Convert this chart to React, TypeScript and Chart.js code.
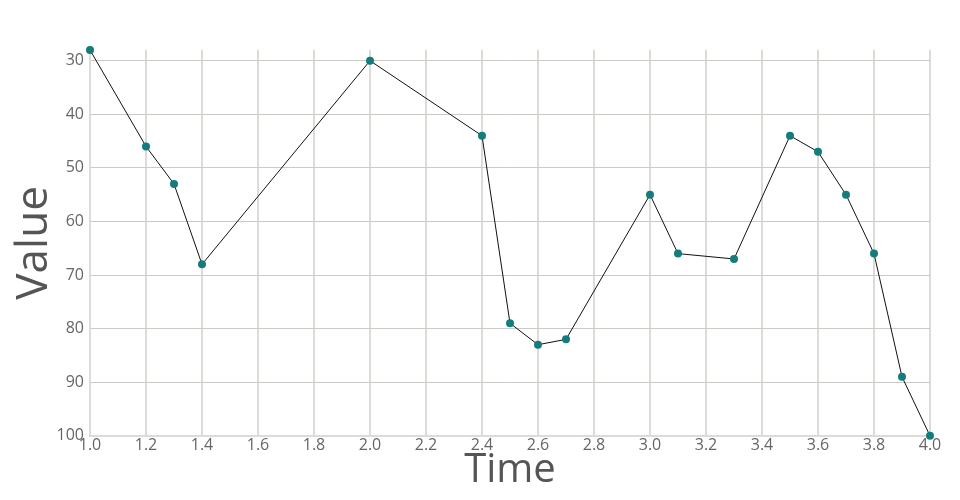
import React, { useEffect, useRef } from "react";
import { Chart, registerables } from "chart.js";

Chart.register(...registerables);

const timeValues = [1.0, 1.2, 1.3, 1.4, 2.0, 2.4, 2.5, 2.6, 2.7, 3.0, 3.1, 3.3, 3.5, 3.6, 3.7, 3.8, 3.9, 4.0];
const seriesValues = [28, 46, 53, 68, 30, 44, 79, 83, 82, 55, 66, 67, 44, 47, 55, 66, 89, 100];
const yTickValues = [30, 40, 50, 60, 70, 80, 90, 100];

const FONT = "'Open Sans', sans-serif";

export default function App() {
  const ref = useRef<HTMLCanvasElement | null>(null);
  useEffect(() => {
    document.body.style.margin = "0";
    const ctx = ref.current!;
    const chart = new Chart(ctx, {
      type: "scatter",
      data: {
        datasets: [
          {
            data: timeValues.map((t, i) => ({ x: t, y: seriesValues[i] })),
            showLine: true,
            clip: false,
            borderColor: "#111",
            borderWidth: 1,
            pointBackgroundColor: "#137d7d",
            pointBorderColor: "#137d7d",
            pointRadius: 4,
            pointBorderWidth: 0,
          },
        ],
      },
      options: {
        animation: false,
        responsive: false,
        maintainAspectRatio: false,
        layout: { padding: { top: 50, right: 30, left: 0, bottom: 5 } },
        plugins: { legend: { display: false }, tooltip: { enabled: false } },
        scales: {
          x: {
            type: "linear",
            min: 1,
            max: 4,
            ticks: {
              stepSize: 0.2,
              color: "#666",
              font: { family: FONT, size: 16 },
              padding: 0,
              maxRotation: 0,
              callback: (v: any) => Number(v).toFixed(1),
            },
            grid: { color: "#dddbd6", lineWidth: 2, drawTicks: false },
            border: { color: "#dddbd6", width: 2 },
            title: { display: true, text: "Time", color: "#555", font: { family: FONT, size: 40 }, padding: { top: -8, bottom: 0 } },
          },
          y: {
            type: "linear",
            reverse: true,
            min: 28,
            max: 100,
            afterBuildTicks: (scale: any) => {
              scale.ticks = yTickValues.map((v) => ({ value: v }));
            },
            afterFit: (scale: any) => {
              scale.width = 90;
            },
            ticks: {
              color: "#666",
              font: { family: FONT, size: 16 },
              padding: 6,
            },
            grid: { color: "#cccac6", lineWidth: 1, drawTicks: false },
            border: { color: "#dddbd6", width: 2 },
            title: { display: true, text: "Value", color: "#555", font: { family: FONT, size: 44 }, padding: { top: 8, bottom: 0 } },
          },
        },
      },
    });
    return () => chart.destroy();
  }, []);
  return <canvas ref={ref} width={960} height={500} style={{ display: "block", width: 960, height: 500 }} />;
}
